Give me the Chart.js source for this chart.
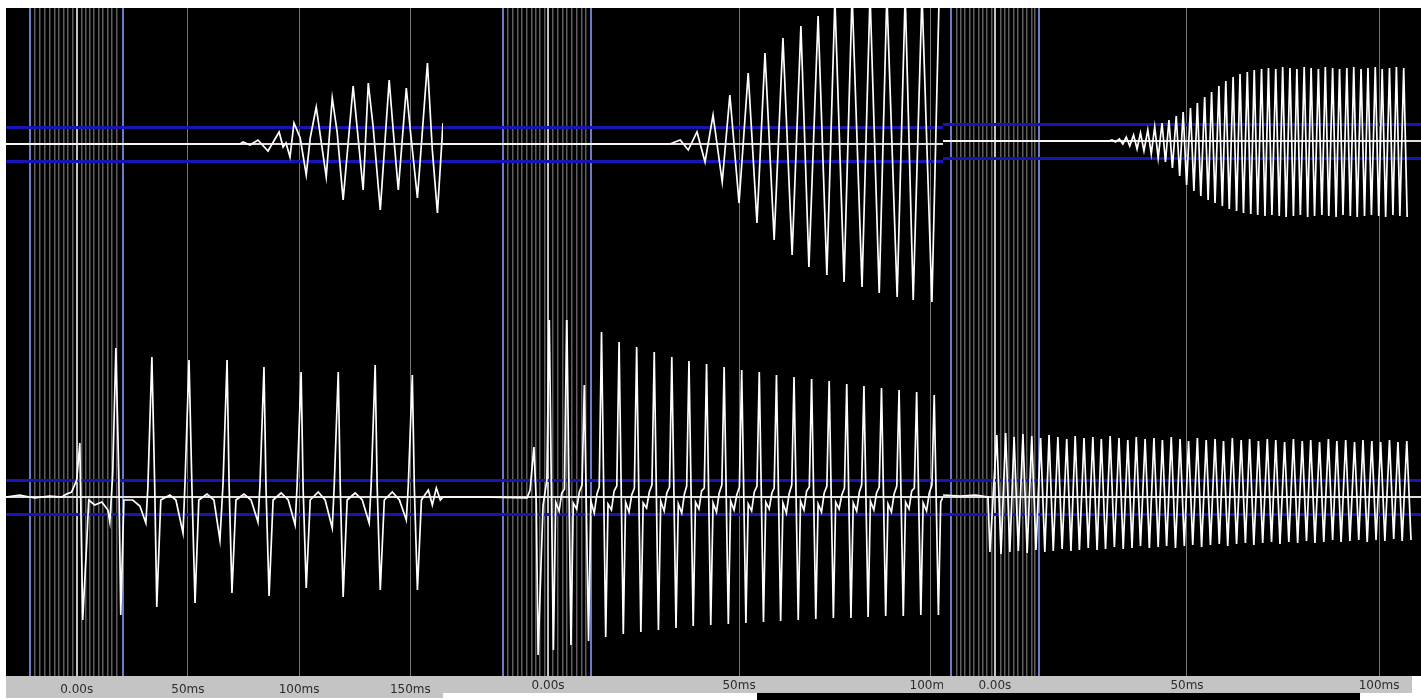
<!DOCTYPE html>
<html>
<head>
<meta charset="utf-8">
<title>Scope traces</title>
<script src="https://cdn.jsdelivr.net/npm/chart.js@4.4.0/dist/chart.umd.min.js"></script>
<style>
  body { margin: 0; background: #ffffff; width: 1421px; height: 700px; position: relative; overflow: hidden; }
  canvas { position: absolute; }
  .patch { position: absolute; }
</style>
</head>
<body>
<canvas id="p1Top" width="437" height="312" style="left:6px;top:8px"></canvas>
<canvas id="p1Bottom" width="437" height="378" style="left:6px;top:320px"></canvas>
<canvas id="p2Top" width="500" height="312" style="left:443px;top:8px"></canvas>
<canvas id="p2Bottom" width="500" height="373" style="left:443px;top:320px"></canvas>
<canvas id="p3Top" width="478" height="312" style="left:943px;top:8px"></canvas>
<canvas id="p3Bottom" width="478" height="373" style="left:943px;top:320px"></canvas>
<div class="patch" style="left:757px;top:693px;width:603px;height:7px;background:#000"></div>
<script>
// threshold lines and zero line (same for every trace)
const levels = [-17, 0, 17];

// panel 1 (ms)
const p1Marks = [-21.0, -18.8, -16.5, -14.3, -12.0, -10.1, -7.9, -6.0, -4.0, -1.9, 0, 2.2, 4.2, 5.9, 7.8, 9.9, 11.9, 13.8, 15.9, 17.9, 20.9];
const p1LabelAt = [0, 50, 100, 150];
const p1Labels = ['0.00s', '50ms', '100ms', '150ms'];

const p1TopT = [-31.8, 73.4, 74.8, 77.9, 81.5, 86.0, 91.0, 92.8, 94.1, 95.9, 97.7, 100.5, 103.2, 105.0, 107.7, 109.5, 112.2, 114.9, 117.1, 119.8,
    124.3, 126.1, 128.8, 131.1, 133.3, 136.5, 140.5, 142.3, 144.6, 148.2, 150.0, 153.2, 157.7, 159.9, 162.2, 164.7];
const p1TopV = [0, 0, 2, -1, 4, -7, 12, -3, 1, -13, 21, 6, -31, 6, 37, 9, -33, 46, 12, -56,
    58, 16, -46, 61, 17, -66, 64, 14, -46, 56, 14, -54, 81, -6, -69, 21];

const p1BotT = [-31.8, -25.7, -18.9, -12.2, -6.8, -4.5, -2.3, 0, 1.4, 1.8,
    2.7, 4.5, 5.4, 8.1, 11.3, 14.0, 14.9, 16.2, 17.6, 18.9,
    19.8, 21.2, 25.2, 28.4, 31.1, 32.0, 33.8, 35.1, 36.0, 37.8,
    41.9, 44.6, 47.8, 48.7, 50.5, 51.8, 53.2, 54.9, 58.6, 61.7,
    64.4, 65.8, 67.6, 68.5, 69.8, 71.6, 75.2, 78.4, 81.5, 82.4,
    84.2, 85.1, 86.5, 88.3, 91.9, 95.1, 98.2, 99.1, 100.9, 101.8,
    103.2, 105.0, 108.6, 111.7, 114.9, 115.8, 117.6, 118.5, 119.8, 121.6,
    125.2, 128.4, 131.5, 132.4, 134.2, 135.1, 136.5, 138.3, 141.9, 145.1,
    148.2, 149.1, 150.9, 151.8, 153.2, 155.0, 158.1, 159.9, 161.7, 163.5,
    164.7];
const p1BotV = [0, 2, -1, 1, 0, 3, 5, 17, 54, -3,
    -123, -46, -3, -8, -5, -13, -25, 24, 149, 24,
    -118, -3, -3, -9, -26, 10, 140, 7, -110, -3,
    2, -3, -36, 15, 137, 10, -106, -3, 3, -3,
    -43, 14, 137, 14, -96, -3, 3, -3, -25, 12,
    130, 10, -99, -3, 4, -3, -28, 12, 125, 9,
    -91, -3, 5, -3, -31, 12, 125, 10, -100, -3,
    4, -3, -26, 12, 132, 10, -93, -3, 5, -3,
    -23, 12, 122, 10, -93, -3, 7, -8, 9, -3,
    0];

// panel 2
const p2Marks = [-11.8, -10.5, -9.2, -7.9, -6.8, -5.5, -4.2, -3.1, -2.1, -0.8, 0, 1.3, 2.6, 3.9, 5.0, 6.3, 7.6, 8.9, 9.9, 11.3];
const p2LabelAt = [0, 50, 100];
const p2Labels = ['0.00s', '50ms', '100ms'];

const p2TopT = [-27.5, 31.9, 34.6, 36.7, 39.0, 41.1, 43.2, 45.6, 47.6, 50.0,
    52.4, 54.7, 56.8, 59.2, 61.5, 63.9, 66.2, 68.3, 70.7, 73.0,
    75.1, 77.5, 79.6, 82.2, 84.3, 86.7, 88.7, 91.4, 93.5, 95.6,
    97.9, 100.5, 102.4];
const p2TopV = [0, 0, 4, -6, 12, -18, 29, -38, 49, -59,
    71, -79, 91, -96, 106, -111, 118, -123, 128, -131,
    145, -138, 150, -143, 150, -149, 150, -153, 150, -156,
    150, -158, 150];

const p2BotT = [-27.5, -17.8, -5.5, -4.7, -3.7, -3.1, -2.6, -1.8, -1.3,
    -0.3, 0.3, 1.4, 2.0, 2.9, 3.6,
    4.3, 4.9, 6.0, 6.6, 7.5, 8.2,
    8.9, 9.5, 10.6, 11.2, 12.1, 12.8,
    13.4, 14.0, 15.1, 15.7, 16.6, 17.3,
    18.0, 18.6, 19.7, 20.3, 21.2, 21.9,
    22.6, 23.2, 24.3, 24.9, 25.8, 26.5,
    27.2, 27.8, 28.9, 29.5, 30.4, 31.1,
    31.8, 32.4, 33.5, 34.1, 35.0, 35.7,
    36.3, 36.9, 38.0, 38.6, 39.5, 40.2,
    40.9, 41.5, 42.6, 43.2, 44.1, 44.8,
    45.5, 46.1, 47.2, 47.8, 48.7, 49.4,
    50.1, 50.7, 51.8, 52.4, 53.3, 54.0,
    54.7, 55.3, 56.4, 57.0, 57.9, 58.6,
    59.2, 59.8, 60.9, 61.5, 62.4, 63.1,
    63.8, 64.4, 65.5, 66.1, 67.0, 67.7,
    68.4, 69.0, 70.1, 70.7, 71.6, 72.3,
    73.0, 73.6, 74.7, 75.3, 76.2, 76.9,
    77.6, 78.2, 79.3, 79.9, 80.8, 81.5,
    82.1, 82.7, 83.8, 84.4, 85.3, 86.0,
    86.7, 87.3, 88.4, 89.0, 89.9, 90.6,
    91.3, 91.9, 93.0, 93.6, 94.5, 95.2,
    95.9, 96.5, 97.6, 98.2, 99.1, 99.8,
    100.5, 101.1, 102.2, 102.8, 103.4];
const p2BotV = [0, 0, -1, 7, 50, -3, -158, -63, -8,
    17, 185, -153, -5, -14, 4,
    8, 185, -148, -6, -12, 5,
    12, 112, -144, -4, -16, 3,
    10, 165, -140, -7, -13, 6,
    11, 155, -137, -5, -15, 2,
    9, 150, -135, -6, -11, 5,
    12, 145, -133, -4, -14, 4,
    10, 140, -131, -7, -16, 3,
    11, 136, -129, -5, -12, 6,
    9, 133, -128, -6, -15, 4,
    12, 130, -127, -4, -13, 2,
    10, 127, -126, -7, -14, 5,
    11, 125, -125, -5, -12, 4,
    9, 122, -124, -6, -16, 3,
    12, 120, -123, -4, -13, 6,
    10, 118, -122, -7, -15, 4,
    11, 116, -121, -5, -12, 2,
    9, 113, -121, -6, -14, 5,
    12, 111, -120, -4, -13, 4,
    10, 109, -119, -7, -15, 3,
    11, 107, -119, -5, -12, 6,
    9, 105, -118, -6, -14, 4,
    12, 102, -118, -5, 0];

// panel 3
const p3Marks = [-11.5, -9.9, -8.9, -7.8, -6.5, -5.5, -4.2, -3.1, -2.1, -0.8, 0, 1.6, 2.6, 3.6, 4.9, 6.0, 7.3, 8.3, 9.6, 10.4, 11.5];
const p3LabelAt = [0, 50, 100];
const p3Labels = ['0.00s', '50ms', '100ms'];

const p3TopLeadT = [-13.5, 29.6];
const p3TopLeadV = [0, 0];
const p3TopPeakT = [30.5, 32.4, 34.2, 36.1, 37.9, 39.8, 41.6, 43.5, 45.3, 47.2,
    49.0, 50.9, 52.7, 54.6, 56.4, 58.3, 60.1, 62.0, 63.8, 65.7,
    67.5, 69.4, 71.2, 73.1, 74.9, 76.8, 78.6, 80.5, 82.3, 84.2,
    86.0, 87.9, 89.7, 91.6, 93.4, 95.3, 97.1, 99.0, 100.8, 102.7,
    104.5, 106.4];
const p3TopPeakV = [1, 2, 4, 6, 8, 11, 14, 18, 21, 25,
    29, 33, 38, 44, 49, 55, 60, 64, 67, 69,
    71, 72, 73, 72, 74, 73, 72, 74, 73, 72,
    74, 73, 72, 73, 74, 72, 73, 74, 72, 73,
    74, 73];
const p3TopTroughT = [31.4, 33.3, 35.1, 37.0, 38.8, 40.7, 42.5, 44.4, 46.2, 48.1,
    49.9, 51.8, 53.6, 55.5, 57.3, 59.2, 61.0, 62.9, 64.7, 66.6,
    68.4, 70.3, 72.1, 74.0, 75.8, 77.7, 79.5, 81.4, 83.2, 85.1,
    86.9, 88.8, 90.6, 92.5, 94.3, 96.2, 98.0, 99.9, 101.7, 103.6,
    105.4, 107.3];
const p3TopTroughV = [-1, -3, -5, -8, -10, -13, -17, -21, -27, -35,
    -44, -50, -55, -59, -62, -65, -68, -70, -72, -73,
    -74, -75, -74, -75, -76, -75, -74, -76, -75, -74,
    -75, -76, -74, -75, -76, -75, -74, -75, -76, -74,
    -75, -76];

const p3BotLeadT = [-13.5, -9.0, -5.0, -1.8, -1.3];
const p3BotLeadV = [2, 1, 2, 0, -55];
const p3BotPeakT = [0.5, 2.8, 5.0, 7.3, 9.6, 11.9, 14.1, 16.4, 18.7, 20.9,
    23.2, 25.5, 27.7, 30.0, 32.3, 34.6, 36.8, 39.1, 41.4, 43.6,
    45.9, 48.2, 50.4, 52.7, 55.0, 57.3, 59.5, 61.8, 64.1, 66.3,
    68.6, 70.9, 73.1, 75.4, 77.7, 80.0, 82.2, 84.5, 86.8, 89.0,
    91.3, 93.6, 95.8, 98.1, 100.4, 102.7, 104.9, 107.2];
const p3BotPeakV = [62, 64, 60, 63, 61, 59, 62, 60, 58, 61,
    59, 60, 58, 61, 59, 57, 60, 58, 59, 57,
    60, 58, 56, 59, 57, 58, 56, 59, 57, 58,
    56, 58, 57, 55, 58, 56, 57, 55, 58, 56,
    57, 55, 57, 56, 55, 57, 55, 56];
const p3BotTroughT = [1.6, 3.9, 6.1, 8.4, 10.7, 13.0, 15.2, 17.5, 19.8, 22.0,
    24.3, 26.6, 28.8, 31.1, 33.4, 35.7, 37.9, 40.2, 42.5, 44.7,
    47.0, 49.3, 51.5, 53.8, 56.1, 58.4, 60.6, 62.9, 65.2, 67.4,
    69.7, 72.0, 74.2, 76.5, 78.8, 81.1, 83.3, 85.6, 87.9, 90.1,
    92.4, 94.7, 96.9, 99.2, 101.5, 103.8, 106.0, 108.3];
const p3BotTroughV = [-57, -55, -54, -56, -53, -55, -54, -52, -54, -53,
    -51, -53, -52, -50, -52, -51, -49, -51, -50, -49,
    -51, -49, -48, -50, -48, -47, -49, -47, -46, -48,
    -46, -45, -47, -45, -46, -44, -46, -45, -43, -45,
    -44, -43, -45, -43, -44, -42, -44, -43];

function pairUp(times, values) {
    return times.map((t, i) => ({ x: t, y: values[i] }));
}

function zigzag(leadT, leadV, peakT, peakV, troughT, troughV) {
    const points = pairUp(leadT, leadV);
    peakT.forEach((t, i) => {
        points.push({ x: t, y: peakV[i] });
        points.push({ x: troughT[i], y: troughV[i] });
    });
    return points;
}

const scopeBackground = {
    id: 'scopeBackground',
    beforeDraw(chart, args, opts) {
        const { ctx, chartArea } = chart;
        ctx.save();
        ctx.fillStyle = '#000000';
        ctx.fillRect(0, 0, chart.width, chartArea.bottom);
        if (opts.stripWidth) {
            ctx.fillStyle = '#c4c4c4';
            ctx.fillRect(0, chartArea.bottom, opts.stripWidth, chart.height - chartArea.bottom);
        }
        ctx.restore();
    }
};

function drawTrace(canvasId, cfg) {
    const ticks = cfg.marks.concat(cfg.labelAt.filter(v => !cfg.marks.includes(v)));
    const edges = [cfg.marks[0], cfg.marks[cfg.marks.length - 1]];
    const markColor = v => edges.includes(v) ? '#6b7bc4' : v === 0 ? '#c2c2c2' : cfg.labelAt.includes(v) ? '#747474' : '#5e5e5e';
    const markWidth = v => (edges.includes(v) || v === 0) ? 2 : cfg.labelAt.includes(v) ? 1 : 1.5;
    const showLabels = !!cfg.stripHeight;

    return new Chart(document.getElementById(canvasId).getContext('2d'), {
        type: 'line',
        data: {
            datasets: [{
                data: cfg.points,
                borderColor: '#ffffff',
                borderWidth: 1.7,
                pointRadius: 0,
                tension: 0
            }]
        },
        options: {
            responsive: false,
            animation: false,
            events: [],
            layout: { padding: 0 },
            plugins: {
                legend: { display: false },
                tooltip: { enabled: false },
                scopeBackground: { stripWidth: cfg.stripWidth || 0 }
            },
            scales: {
                x: {
                    type: 'linear',
                    min: cfg.xMin,
                    max: cfg.xMax,
                    border: { display: false },
                    grid: {
                        drawTicks: false,
                        color: c => markColor(c.tick.value),
                        lineWidth: c => markWidth(c.tick.value)
                    },
                    ticks: {
                        display: showLabels,
                        autoSkip: false,
                        maxRotation: 0,
                        padding: cfg.labelPad || 0,
                        color: '#2c2c2c',
                        font: { family: 'DejaVu Sans', size: 12 },
                        callback: v => {
                            const i = cfg.labelAt.indexOf(v);
                            return i >= 0 ? cfg.labels[i] : '';
                        }
                    },
                    afterBuildTicks: s => { s.ticks = ticks.map(v => ({ value: v })); },
                    afterFit: s => {
                        s.height = cfg.stripHeight || 0;
                        s.paddingLeft = 0;
                        s.paddingRight = 0;
                    }
                },
                y: {
                    min: cfg.yMin,
                    max: cfg.yMax,
                    border: { display: false },
                    grid: {
                        drawTicks: false,
                        color: c => c.tick.value === 0 ? '#dedede' : '#1616b4',
                        lineWidth: c => c.tick.value === 0 ? 2 : 3
                    },
                    ticks: { display: false },
                    afterBuildTicks: s => { s.ticks = levels.map(v => ({ value: v })); },
                    afterFit: s => { s.width = 0; s.paddingTop = 0; s.paddingBottom = 0; }
                }
            }
        },
        plugins: [scopeBackground]
    });
}

drawTrace('p1Top', { points: pairUp(p1TopT, p1TopV), marks: p1Marks, labelAt: p1LabelAt, labels: p1Labels,
    xMin: -31.8, xMax: 164.7, yMin: -176, yMax: 136 });
drawTrace('p1Bottom', { points: pairUp(p1BotT, p1BotV), marks: p1Marks, labelAt: p1LabelAt, labels: p1Labels,
    xMin: -31.8, xMax: 164.7, yMin: -179, yMax: 177, stripHeight: 22, stripWidth: 437, labelPad: 7 });
drawTrace('p2Top', { points: pairUp(p2TopT, p2TopV), marks: p2Marks, labelAt: p2LabelAt, labels: p2Labels,
    xMin: -27.5, xMax: 103.4, yMin: -176, yMax: 136 });
drawTrace('p2Bottom', { points: pairUp(p2BotT, p2BotV), marks: p2Marks, labelAt: p2LabelAt, labels: p2Labels,
    xMin: -27.5, xMax: 103.4, yMin: -179, yMax: 177, stripHeight: 17, stripWidth: 500, labelPad: 3 });
drawTrace('p3Top', { points: zigzag(p3TopLeadT, p3TopLeadV, p3TopPeakT, p3TopPeakV, p3TopTroughT, p3TopTroughV),
    marks: p3Marks, labelAt: p3LabelAt, labels: p3Labels, xMin: -13.5, xMax: 110.9, yMin: -179, yMax: 133 });
drawTrace('p3Bottom', { points: zigzag(p3BotLeadT, p3BotLeadV, p3BotPeakT, p3BotPeakV, p3BotTroughT, p3BotTroughV),
    marks: p3Marks, labelAt: p3LabelAt, labels: p3Labels, xMin: -13.5, xMax: 110.9, yMin: -179, yMax: 177,
    stripHeight: 17, stripWidth: 469, labelPad: 3 });
</script>
</body>
</html>
